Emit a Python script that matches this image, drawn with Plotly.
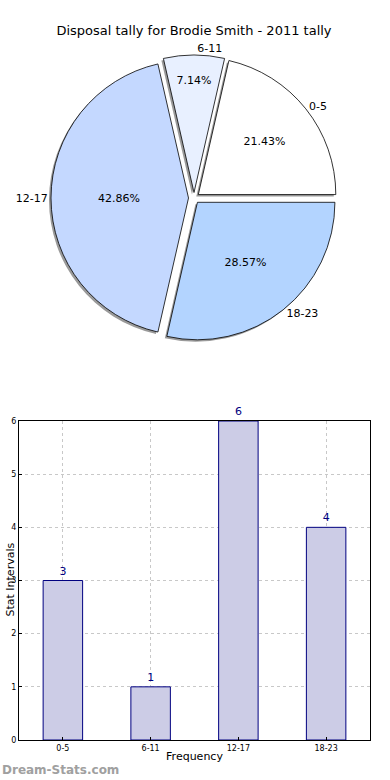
import plotly.graph_objects as go

categories = ["0-5", "6-11", "12-17", "18-23"]
counts = [3, 1, 6, 4]
pie_colors = ["#ffffff", "#e8f0ff", "#c4d8ff", "#b3d4ff"]
title = "Disposal tally for Brodie Smith - 2011 tally"

W, H = 390, 780
FONT = "DejaVu Sans"

def fx(px):
    return px / W

def fy(py):
    return 1 - py / H

def px_dom(x0, x1, y0, y1):
    return dict(x=[fx(x0), fx(x1)], y=[fy(y1), fy(y0)])

pull = [0.04] * 4
# first slice starts at 3 o'clock and runs counter-clockwise (matplotlib default)
ROT = 90 - 360 * counts[0] / sum(counts)
cx, cy, half = 194, 198, 143
dom = px_dom(cx - half, cx + half, cy - half, cy + half)
sdom = px_dom(cx - half - 2, cx + half - 2, cy - half + 2, cy + half + 2)

fig = go.Figure()
# shadow
fig.add_trace(go.Pie(
    labels=categories, values=counts, sort=False, direction="counterclockwise",
    rotation=ROT, pull=pull, domain=sdom, textinfo="none", hoverinfo="skip",
    marker=dict(colors=["rgba(120,120,120,0.75)"] * 4, line=dict(width=0)),
    showlegend=False))
# main pie with percentages inside
fig.add_trace(go.Pie(
    labels=categories, values=counts, sort=False, direction="counterclockwise",
    rotation=ROT, pull=pull, domain=dom,
    texttemplate="%{percent:.2%}", textposition="inside", insidetextorientation="horizontal",
    textfont=dict(family=FONT, size=11, color="black"),
    marker=dict(colors=pie_colors, line=dict(color="black", width=0.8)),
    showlegend=False))
# outside labels
fig.add_trace(go.Pie(
    labels=categories, values=counts, sort=False, direction="counterclockwise",
    rotation=ROT, pull=pull, domain=dom,
    texttemplate="%{label}", textposition="outside",
    textfont=dict(family=FONT, size=11, color="black"),
    marker=dict(colors=["rgba(0,0,0,0)"] * 4, line=dict(width=0)),
    hoverinfo="skip", showlegend=False))

fig.add_trace(go.Bar(
    x=categories, y=counts, width=0.45, text=[str(c) for c in counts],
    textposition="outside", cliponaxis=False,
    textfont=dict(family=FONT, size=11, color="#000080"),
    marker=dict(color="#cccce6", line=dict(color="#000080", width=1)),
    showlegend=False, xaxis="x", yaxis="y"))

grid = "#c8c8c8"
fig.update_layout(
    width=W, height=H, margin=dict(l=0, r=0, t=0, b=0, autoexpand=False),
    paper_bgcolor="white", plot_bgcolor="white",
    font=dict(family=FONT, color="black"),
    title=dict(text=title, x=fx(194), xanchor="center", y=fy(30), yanchor="middle",
               font=dict(family=FONT, size=13, color="black")),
    xaxis=dict(domain=[fx(19), fx(370)], range=[-0.5, 3.5], showline=True, mirror=True,
               linecolor="black", linewidth=1, showgrid=True, gridcolor=grid,
               griddash="dot", gridwidth=1, ticks="inside", ticklen=3, tickcolor="black",
               tickfont=dict(size=8), layer="above traces", zeroline=False,
               automargin=False,
               title=dict(text="Frequency", font=dict(size=11), standoff=0), anchor="y"),
    yaxis=dict(domain=[fy(740), fy(421)], range=[0, 6], dtick=1, showline=True,
               mirror=True, linecolor="black", linewidth=1, showgrid=True,
               gridcolor=grid, griddash="dot", gridwidth=1, ticks="inside", ticklen=3,
               tickcolor="black", tickfont=dict(size=8), layer="above traces",
               zeroline=False, automargin=False, anchor="x"),
    annotations=[
        dict(text="Stat Intervals", x=fx(1), y=fy(580), xref="paper", yref="paper",
             xanchor="left", yanchor="middle", textangle=-90, showarrow=False,
             font=dict(family=FONT, size=11, color="black")),
        dict(text="<b>Dream-Stats.com</b>", x=0, y=fy(770), xref="paper",
             yref="paper", xanchor="left", yanchor="middle", showarrow=False,
             font=dict(family=FONT, size=12, color="#a0a0a0"))],
)

fig.write_html("out.html", config={"displayModeBar": False},
               post_script="document.body.style.margin='0';")
